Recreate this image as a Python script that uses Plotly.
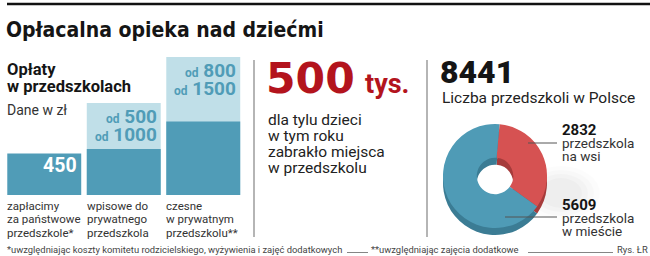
import plotly.graph_objects as go

W, H = 650, 256

# ---------------- data ----------------
title = "Opłacalna opieka nad dziećmi"
bar_heading = ["Opłaty", "w przedszkolach"]
bar_unit = "Dane w zł"
bar_categories = ["państwowe", "wpisowe", "czesne"]
bar_low = [450, 500, 800]          # dark part
bar_high = [None, 1000, 1500]      # light part (upper bound)
bar_labels = [
    ["zapłacimy", "za państwowe", "przedszkole*"],
    ["wpisowe do", "prywatnego", "przedszkola"],
    ["czesne", "w prywatnym", "przedszkolu**"],
]
big_number = "500"
big_unit = "tys."
big_text = ["dla tylu dzieci", "w tym roku", "zabrakło miejsca", "w przedszkolu"]
pie_labels = ["przedszkola na wsi", "przedszkola w mieście"]
pie_values = [2832, 5609]
pie_caption = "Liczba przedszkoli w Polsce"
pie_text = [["przedszkola", "na wsi"], ["przedszkola", "w mieście"]]
foot1 = "*uwzględniając koszty komitetu rodzicielskiego, wyżywienia i zajęć dodatkowych"
foot2 = "**uwzględniając zajęcia dodatkowe"
foot3 = "Rys. ŁR"

# ---------------- styles ----------------
DARK = "#509cb7"
LIGHT = "#c0dfe8"
RED = "#b3141d"
PIE_COLORS = ["#d65252", "#4f9bb6"]
PIE_SIDE = ["#a63b3b", "#3b7c94"]
BODY = "Roboto, Lato, sans-serif"
COND = "DejaVu Sans Condensed, Roboto, sans-serif"

fig = go.Figure()

# bars
fig.add_trace(go.Bar(x=bar_categories, y=bar_high, marker=dict(color=LIGHT, line=dict(width=0)),
                     width=0.93, hoverinfo="skip"))
fig.add_trace(go.Bar(x=bar_categories, y=bar_low, marker=dict(color=DARK, line=dict(width=0)),
                     width=0.93, hoverinfo="skip"))

# donut (side + top)
cx, cy, r = 495, 176, 52
def dom(cxp, cyp):
    return dict(x=[(cxp - r) / W, (cxp + r) / W], y=[1 - (cyp + r) / H, 1 - (cyp - r) / H])

fig.add_trace(go.Pie(values=pie_values, labels=pie_labels, hole=0.35, sort=False,
                     direction="clockwise", rotation=5, marker=dict(colors=PIE_SIDE, line=dict(width=0)),
                     textinfo="none", hoverinfo="skip", domain=dom(cx, cy + 7)))
fig.add_trace(go.Pie(values=pie_values, labels=pie_labels, hole=0.35, sort=False,
                     direction="clockwise", rotation=5, marker=dict(colors=PIE_COLORS, line=dict(width=0)),
                     textinfo="none", hoverinfo="skip", domain=dom(cx, cy)))

ybot, ytop_px = 195, 195 - 1600 * 0.092
fig.update_layout(
    width=W, height=H, margin=dict(l=0, r=0, t=0, b=0),
    paper_bgcolor="white", plot_bgcolor="white", showlegend=False, barmode="overlay",
    xaxis=dict(domain=[4.5 / W, 243 / W], range=[-0.5, 2.5], visible=False, fixedrange=True),
    yaxis=dict(domain=[1 - ybot / H, 1 - ytop_px / H], range=[0, 1600], visible=False, fixedrange=True),
)

def txt(x, base, s, size, family=BODY, weight=400, color="#222", anchor="left"):
    fig.add_annotation(x=x / W, y=1 - (base - 0.35 * size) / H, xref="paper", yref="paper",
                       text=s, showarrow=False, xanchor=anchor, yanchor="middle",
                       borderpad=0, borderwidth=0,
                       font=dict(family=family, size=size, color=color, weight=weight))

def line(x0, y0, x1, y1, color, width):
    fig.add_shape(type="line", xref="paper", yref="paper", x0=x0 / W, x1=x1 / W,
                  y0=1 - y0 / H, y1=1 - y1 / H, line=dict(color=color, width=width))

# soft shadow of the donut
for i, a in enumerate([0.012, 0.015, 0.018, 0.02]):
    fig.add_shape(type="circle", xref="paper", yref="paper", layer="below",
                  x0=(522 + i * 6) / W, x1=(600 - i * 6) / W, y0=1 - (220 - i * 4) / H, y1=1 - (166 + i * 4) / H,
                  fillcolor=f"rgba(0,0,0,{a})", line=dict(width=0))

# top rule & title
line(7, 4, 650, 4, "#111", 2.5)
txt(6, 37, title, 21, family=COND, weight=700, color="#151515")

# left panel
txt(7, 75, bar_heading[0], 16.5, weight=700, color="#151515")
txt(7, 92, bar_heading[1], 16.5, weight=700, color="#151515")
txt(7, 115, bar_unit, 14, color="#333")
for i, lines in enumerate(bar_labels):
    x0 = [7, 87, 166][i]
    for j, s in enumerate(lines):
        txt(x0, 210 + j * 13.5, s, 11.5, color="#333")

# labels on bars (data coordinates)
for i, cat in enumerate(bar_categories):
    if bar_high[i] is None:
        fig.add_annotation(x=i + 0.43, y=bar_low[i], xref="x", yref="y", text=str(bar_low[i]),
                           showarrow=False, xanchor="right", yanchor="middle", yshift=-12,
                           borderpad=0, font=dict(family=BODY, size=19.5, color="white", weight=700))
    else:
        for j, v in enumerate([bar_low[i], bar_high[i]]):
            fig.add_annotation(x=i + 0.43, y=bar_high[i], xref="x", yref="y",
                               text=f"<span style='font-size:12px'>od</span> {v}",
                               showarrow=False, xanchor="right", yanchor="middle", yshift=-13.5 - j * 17.5,
                               borderpad=0, font=dict(family=BODY, size=19, color=DARK, weight=700))

# separators
line(254, 60, 254, 237, "#9c9c9c", 1.5)
line(427, 60, 427, 237, "#9c9c9c", 1.5)

# middle panel
txt(266, 93, big_number, 42.5, family="DejaVu Sans, Roboto", weight=700, color=RED)
txt(365, 93, big_unit, 27, weight=700, color=RED)
for j, s in enumerate(big_text):
    txt(268, 125 + j * 16, s, 15.5, color="#222")

# right panel
txt(440, 83, f"{sum(pie_values)}", 32, weight=900, color="#151515")
txt(442, 103, pie_caption, 15.5, color="#222")
line(528, 143, 557, 143, "#555", 1)
line(505, 217, 557, 217, "#555", 1)
for k, base in enumerate([135, 210]):
    txt(562, base, f"{pie_values[k]}", 15, weight=700, color="#151515")
    for j, s in enumerate(pie_text[k]):
        txt(562, base + 13 + j * 13, s, 13.5, color="#333")

# footnote
txt(7, 253, foot1, 9.4, color="#444")
line(347, 252.5, 368, 252.5, "#666", 0.8)
txt(371, 253, foot2, 9.4, color="#444")
line(528, 252.5, 613, 252.5, "#666", 0.8)
txt(648, 253, foot3, 9.4, color="#444", anchor="right")

fig.write_html("out.html")
